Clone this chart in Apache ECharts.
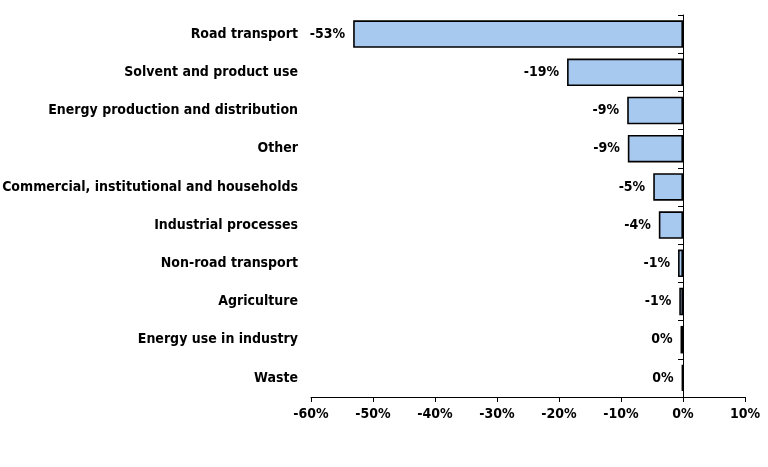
<!DOCTYPE html>
<html><head><meta charset="utf-8">
<script src="https://cdn.jsdelivr.net/npm/echarts@6/dist/echarts.min.js"></script>
<style>html,body{margin:0;padding:0;background:#fff}#c{width:768px;height:467px}</style>
</head><body><div id="c"></div>
<script>
const categories = ["Road transport","Solvent and product use","Energy production and distribution","Other","Commercial, institutional and households","Industrial processes","Non-road transport","Agriculture","Energy use in industry","Waste"];
const values = [-53.2,-18.7,-9.0,-8.9,-4.8,-3.9,-0.8,-0.6,-0.4,-0.2];
const xTicks = {min:-60,max:10,interval:10};
const font = {fontFamily:'DejaVu Sans Condensed',fontWeight:'bold',fontSize:14,color:'#000'};
const chart = echarts.init(document.getElementById('c'));
chart.setOption({
  animation:false,
  grid:{left:311,right:23,top:15,bottom:70,outerBoundsMode:'none',containLabel:false},
  xAxis:{type:'value',min:xTicks.min,max:xTicks.max,interval:xTicks.interval,
    axisLine:{show:true,onZero:false,lineStyle:{color:'#000',width:1}},
    axisTick:{show:true,inside:false,length:5,lineStyle:{color:'#000'}},
    splitLine:{show:false},
    axisLabel:Object.assign({margin:10,formatter:v=>v+'%'},font)},
  yAxis:[{type:'category',data:categories,inverse:true,position:'left',
    axisLine:{show:false},axisTick:{show:false},
    axisLabel:Object.assign({margin:13},font)},
   {type:'category',data:categories,inverse:true,position:'right',offset:-62,
    axisLine:{show:true,onZero:false,lineStyle:{color:'#000',width:1}},
    axisTick:{show:true,inside:true,length:5,lineStyle:{color:'#000'}},
    axisLabel:{show:false}}],
  series:[{type:'bar',data:values,yAxisIndex:0,barCategoryGap:'28%',
    itemStyle:{color:'#a7c9ef',borderColor:'#000',borderWidth:1.6},
    label:Object.assign({show:true,position:'left',distance:8,formatter:p=>{const r=Math.round(p.value);return (r===0?0:r)+'%';}},font)}]
});
</script></body></html>
